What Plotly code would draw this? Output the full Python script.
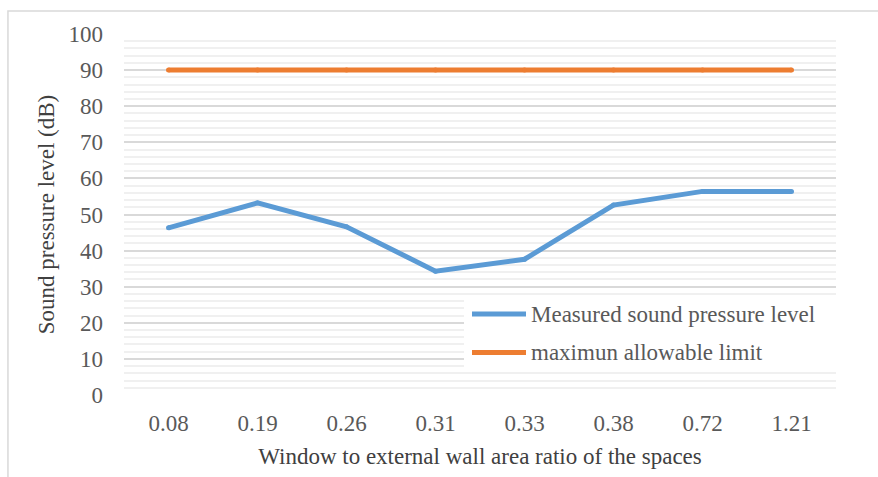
import plotly.graph_objects as go

# Window-to-wall ratio categories and sound pressure readings (dB)
ratios = ["0.08", "0.19", "0.26", "0.31", "0.33", "0.38", "0.72", "1.21"]
measured_db = [46.3, 53.2, 46.6, 34.3, 37.6, 52.6, 56.4, 56.4]
limit_db = [90, 90, 90, 90, 90, 90, 90, 90]
series_names = ["Measured sound pressure level", "maximun allowable limit"]
series_colors = ["#5B9BD5", "#ED7D31"]

FONT = "Liberation Serif"
TEXT = "#595959"
FS = 23

# Plot-area geometry in pixels (used to place the legend box)
W, H = 878, 477
ML, MR, MT, MB = 124, 42, 34, 82
PW, PH = W - ML - MR, H - MT - MB


def px_x(x):
    return (x - ML) / PW


def px_y(y):
    return (H - MB - y) / PH


fig = go.Figure()
for vals, name, color in zip([measured_db, limit_db], series_names, series_colors):
    # small round markers give the lines rounded ends and joins
    fig.add_trace(go.Scatter(
        x=ratios, y=vals, mode="lines+markers", name=name,
        line=dict(color=color, width=5),
        marker=dict(color=color, size=5, line=dict(width=0)),
        showlegend=False,
    ))

fig.update_layout(
    width=W, height=H,
    margin=dict(l=ML, r=MR, t=MT, b=MB),
    paper_bgcolor="white", plot_bgcolor="white",
    font=dict(family=FONT, size=FS, color=TEXT),
    xaxis=dict(
        type="category", range=[-0.5, 7.5],
        showgrid=False, zeroline=False, showline=False,
        ticks="", tickfont=dict(family=FONT, size=FS, color=TEXT),
        ticklabelstandoff=12,
        title=dict(text="Window to external wall area ratio of the spaces",
                   font=dict(family=FONT, size=FS, color="#404040"), standoff=12),
    ),
    yaxis=dict(
        range=[0, 100], dtick=10, showgrid=True, gridcolor="#d9d9d9", gridwidth=1.5,
        zeroline=False, showline=False, ticks="",
        minor=dict(dtick=2, showgrid=True, gridcolor="#f0f0f0", gridwidth=1.5),
        tickfont=dict(family=FONT, size=FS, color=TEXT),
        ticklabelstandoff=20,
        title=dict(text="Sound pressure level (dB)",
                   font=dict(family=FONT, size=FS, color="#404040"), standoff=7),
    ),
)

# Outer chart border
fig.add_shape(type="rect", xref="paper", yref="paper",
              x0=-0.163, x1=1.2, y0=-0.5, y1=1.0637,
              line=dict(color="#d9d9d9", width=1.5), layer="below")

# Legend box with long swatches
fig.add_shape(type="rect", xref="paper", yref="paper",
              x0=px_x(464), x1=px_x(836), y0=px_y(369), y1=px_y(296),
              fillcolor="white", line=dict(width=0), layer="above")
for i, (name, color) in enumerate(zip(series_names, series_colors)):
    yy = px_y(314 + i * 38.5)
    fig.add_shape(type="line", xref="paper", yref="paper",
                  x0=px_x(472), x1=px_x(526), y0=yy, y1=yy,
                  line=dict(color=color, width=5), layer="above")
    fig.add_annotation(xref="paper", yref="paper", x=px_x(529), y=yy,
                       xanchor="left", yanchor="middle", showarrow=False,
                       text=name, font=dict(family=FONT, size=FS, color=TEXT))

fig.write_html("out.html")
